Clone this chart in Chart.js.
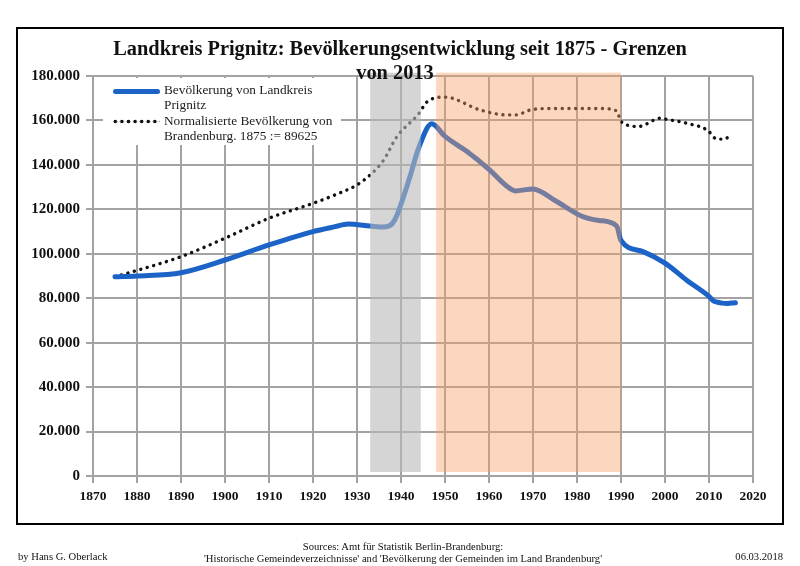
<!DOCTYPE html>
<html>
<head>
<meta charset="utf-8">
<script src="https://cdn.jsdelivr.net/npm/chart.js@4/dist/chart.umd.min.js"></script>
<style>
  html, body { margin: 0; padding: 0; background: #fff; }
  #wrap { position: relative; width: 800px; height: 566px; overflow: hidden; font-family: "Liberation Serif", "DejaVu Serif", serif; }
  #c { position: absolute; left: 0; top: 0; }
  #frame { position: absolute; left: 16px; top: 27px; width: 764px; height: 494px; border: 2px solid #000; pointer-events: none; }
  .title { position: absolute; left: 0; width: 800px; text-align: center; font-weight: bold; font-size: 20.4px; color: #111; white-space: nowrap; }
  #legend { position: absolute; left: 103px; top: 78px; width: 238px; height: 67px; background: #fff; font-size: 13.3px; color: #222; }
  .li { position: absolute; left: 61px; line-height: 14.8px; white-space: nowrap; }
  .sw { position: absolute; }
  .foot { position: absolute; font-size: 10.6px; color: #111; white-space: nowrap; }
</style>
</head>
<body>
<div id="wrap">
  <canvas id="c" width="800" height="566"></canvas>
  <div id="frame"></div>
  <div class="title" style="top:37px;">Landkreis Prignitz: Bevölkerungsentwicklung seit 1875 - Grenzen</div>
  <div class="title" style="top:61px; left:-5px;">von 2013</div>
  <div id="legend">
    <div class="sw" style="left:10px; top:11px; width:47px; height:5px; background:#1b63c6; border-radius:3px;"></div>
    <div class="li" style="top:5px;">Bevölkerung von Landkreis<br>Prignitz</div>
    <div class="sw" style="left:9px; top:41px; width:48px; height:5px; background: radial-gradient(circle, #111 1.6px, rgba(0,0,0,0) 2.1px) repeat-x; background-size: 6.6px 5px;"></div>
    <div class="li" style="top:36px;">Normalisierte Bevölkerung von<br>Brandenburg. 1875 := 89625</div>
  </div>
  <div class="foot" style="left:18px; top:551px;">by Hans G. Oberlack</div>
  <div class="foot" style="left:0; width:806px; text-align:center; top:541px; line-height:11.5px;">Sources: Amt für Statistik Berlin-Brandenburg:<br>'Historische Gemeindeverzeichnisse' and 'Bevölkerung der Gemeinden im Land Brandenburg'</div>
  <div class="foot" style="right:17px; top:551px;">06.03.2018</div>
</div>
<script>
// ---- data ----
const popYears = [1875,1880,1890,1900,1910,1920,1925,1928,1933,1936,1938,1939,1942,1944,1947,1950,1955,1960,1964,1966,1970,1975,1981,1985,1989,1990,1995,2000,2005,2010,2011,2012,2013,2014,2015,2016];
const popValues = [89625,90000,91500,97200,104000,110000,112200,113400,112500,112000,113500,117000,134500,147500,158500,152800,146000,138000,130500,128300,129200,124000,117000,115000,112500,106000,101000,95800,88000,80800,78800,78200,77800,77600,77800,78000];

const normYears = [1875,1880,1890,1900,1910,1920,1925,1930,1933,1936,1939,1944,1946,1950,1958,1964,1966,1970,1975,1981,1985,1989,1990,1994,1999,2000,2005,2010,2011,2012,2013,2014,2015];
const normValues = [89625,92500,98700,107000,116000,122700,126500,131000,135500,142000,152500,163000,168500,170500,164700,162500,162500,165000,165400,165400,165400,164300,159500,157300,161000,160600,158700,155000,152500,151600,151600,152000,154200];

const seriesNames = ['Bevölkerung von Landkreis Prignitz', 'Normalisierte Bevölkerung von Brandenburg. 1875 := 89625'];

// shaded periods [from, to]
const grayPeriod = [1933, 1944.5];
const orangePeriod = [1948, 1990];
const bandValueRange = [1800, 181500];

const xTicks = [1870, 2020, 10];
const yTicks = [0, 180000, 20000];

function fmtDE(v) {
  return String(Math.round(v)).replace(/\B(?=(\d{3})+(?!\d))/g, '.');
}

const bandPlugin = {
  id: 'bands',
  afterDatasetsDraw(chart) {
    const { ctx, scales: { x, y } } = chart;
    const yTop = y.getPixelForValue(bandValueRange[1]);
    const yBot = y.getPixelForValue(bandValueRange[0]);
    ctx.save();
    ctx.fillStyle = 'rgba(185,185,185,0.6)';
    let x0 = x.getPixelForValue(grayPeriod[0]), x1 = x.getPixelForValue(grayPeriod[1]);
    ctx.fillRect(x0, yTop, x1 - x0, yBot - yTop);
    ctx.fillStyle = 'rgba(242,160,100,0.42)';
    x0 = x.getPixelForValue(orangePeriod[0]); x1 = x.getPixelForValue(orangePeriod[1]);
    ctx.fillRect(x0, yTop, x1 - x0, yBot - yTop);
    ctx.restore();
  }
};

const gridColor = '#a3a3a3';

new Chart(document.getElementById('c'), {
  type: 'line',
  data: {
    datasets: [
      {
        label: seriesNames[0],
        data: popYears.map((yr, i) => ({ x: yr, y: popValues[i] })),
        borderColor: '#1b63c6',
        borderWidth: 5,
        pointRadius: 0,
        cubicInterpolationMode: 'monotone',
        borderCapStyle: 'round',
        borderJoinStyle: 'round',
        fill: false
      },
      {
        label: seriesNames[1],
        data: normYears.map((yr, i) => ({ x: yr, y: normValues[i] })),
        borderColor: '#111',
        borderWidth: 3.4,
        borderDash: [0.1, 6.6],
        borderCapStyle: 'round',
        pointRadius: 0,
        cubicInterpolationMode: 'monotone',
        fill: false
      }
    ]
  },
  options: {
    responsive: false,
    animation: false,
    layout: { padding: { left: 0, right: 47, top: 76, bottom: 0 } },
    plugins: { legend: { display: false }, title: { display: false }, tooltip: { enabled: false } },
    scales: {
      x: {
        type: 'linear',
        min: xTicks[0], max: xTicks[1],
        ticks: { stepSize: xTicks[2], color: '#111', font: { family: '"Liberation Serif", serif', size: 13.5, weight: 'bold' },
                 padding: 5, maxRotation: 0, autoSkip: false, callback: v => String(v) },
        grid: { color: gridColor, lineWidth: 2, tickLength: 7, drawTicks: true },
        border: { color: gridColor, width: 2 },
        afterFit: s => { s.height = 90; }
      },
      y: {
        min: yTicks[0], max: yTicks[1],
        ticks: { stepSize: yTicks[2], color: '#111', font: { family: '"Liberation Serif", serif', size: 15, weight: 'bold' },
                 padding: 6, callback: v => fmtDE(v) },
        grid: { color: gridColor, lineWidth: 2, tickLength: 7, drawTicks: true },
        border: { color: gridColor, width: 2 },
        afterFit: s => { s.width = 93; }
      }
    }
  },
  plugins: [bandPlugin]
});
</script>
</body>
</html>
